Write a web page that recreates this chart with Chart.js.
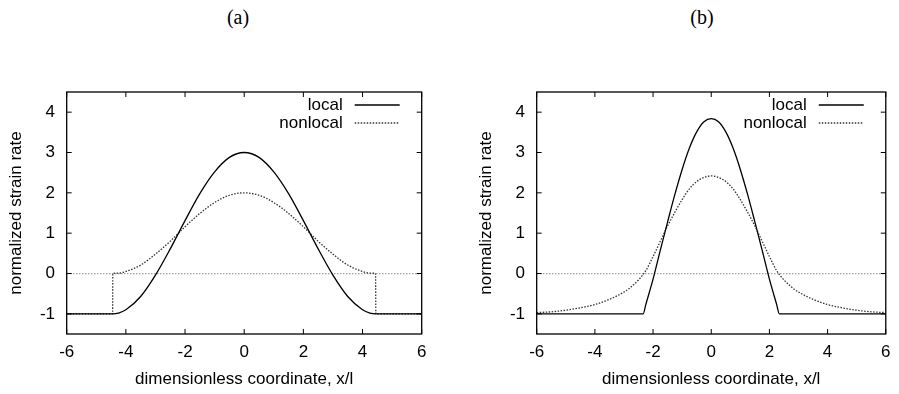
<!DOCTYPE html>
<html>
<head>
<meta charset="utf-8">
<script src="https://cdn.jsdelivr.net/npm/chart.js@4"></script>
<style>
  body { margin: 0; background: #fff; }
  #wrap { position: relative; width: 899px; height: 394px; }
  canvas { position: absolute; top: 0; }
  .sub { position: absolute; top: 6px; width: 60px; line-height: 22px; text-align: center;
         font-family: "Liberation Serif", "Times New Roman", serif; font-size: 20px; color: #000; }
</style>
</head>
<body>
<div id="wrap">
  <div class="sub" style="left:208px">(a)</div>
  <div class="sub" style="left:672px">(b)</div>
  <canvas id="chartA" width="450" height="394" style="left:0"></canvas>
  <canvas id="chartB" width="449" height="394" style="left:450px"></canvas>
</div>
<script>
// tick labels
const xTicks = [-6, -4, -2, 0, 2, 4, 6];
const yTicks = [-1, 0, 1, 2, 3, 4];

// panel (a)
const xLocalA = [-6, -4.44, -4.25, -4, -3.5, -3, -2.5, -2, -1.5, -1, -0.5, 0, 0.5, 1, 1.5, 2, 2.5, 3, 3.5, 4, 4.25, 4.44, 6];
const localA = [-1, -1, -0.98, -0.90, -0.57, -0.04, 0.61, 1.31, 1.98, 2.52, 2.88, 3, 2.88, 2.52, 1.98, 1.31, 0.61, -0.04, -0.57, -0.90, -0.98, -1, -1];
const xNonlocalA = [-6, -4.45, -4.44, -4.25, -4, -3.5, -3, -2.5, -2, -1.5, -1, -0.5, 0, 0.5, 1, 1.5, 2, 2.5, 3, 3.5, 4, 4.25, 4.44, 4.45, 6];
const nonlocalA = [-1, -1, 0, 0.01, 0.05, 0.21, 0.48, 0.80, 1.16, 1.49, 1.76, 1.94, 2, 1.94, 1.76, 1.49, 1.16, 0.80, 0.48, 0.21, 0.05, 0.01, 0, -1, -1];

// panel (b)
const xLocalB = [-6, -2.34, -2.25, -2, -1.75, -1.5, -1.25, -1, -0.75, -0.5, -0.25, 0, 0.25, 0.5, 0.75, 1, 1.25, 1.5, 1.75, 2, 2.25, 2.34, 6];
const localB = [-1, -1, -0.77, -0.14, 0.58, 1.28, 1.96, 2.58, 3.11, 3.51, 3.76, 3.84, 3.76, 3.51, 3.11, 2.58, 1.96, 1.28, 0.58, -0.14, -0.77, -1, -1];
const xNonlocalB = [-6, -5.5, -5, -4.5, -4, -3.5, -3, -2.75, -2.5, -2.25, -2, -1.75, -1.5, -1.25, -1, -0.75, -0.5, -0.25, 0,
                    0.25, 0.5, 0.75, 1, 1.25, 1.5, 1.75, 2, 2.25, 2.5, 2.75, 3, 3.5, 4, 4.5, 5, 5.5, 6];
const nonlocalB = [-0.97, -0.95, -0.91, -0.85, -0.77, -0.64, -0.46, -0.33, -0.16, 0.07, 0.42, 0.80, 1.18, 1.52, 1.83, 2.10, 2.28, 2.38, 2.42,
                   2.38, 2.28, 2.10, 1.83, 1.52, 1.18, 0.80, 0.42, 0.07, -0.16, -0.33, -0.46, -0.64, -0.77, -0.85, -0.91, -0.95, -0.97];

const FONT = '"Liberation Sans", Arial, Helvetica, sans-serif';

function toPoints(xs, ys) {
  return xs.map((x, i) => ({ x: x, y: ys[i] }));
}

// frame, inward ticks and the gnuplot style key
const framePlugin = {
  id: 'frame',
  afterDatasetsDraw(chart) {
    const ctx = chart.ctx;
    const a = chart.chartArea;
    const sx = chart.scales.x, sy = chart.scales.y;
    ctx.save();
    ctx.strokeStyle = '#000';
    ctx.lineWidth = 1.3;
    ctx.strokeRect(a.left, a.top, a.right - a.left, a.bottom - a.top);
    ctx.lineWidth = 1;
    ctx.beginPath();
    xTicks.forEach(v => {
      const px = sx.getPixelForValue(v);
      ctx.moveTo(px, a.bottom); ctx.lineTo(px, a.bottom - 5);
      ctx.moveTo(px, a.top); ctx.lineTo(px, a.top + 5);
    });
    yTicks.forEach(v => {
      const py = sy.getPixelForValue(v);
      ctx.moveTo(a.left, py); ctx.lineTo(a.left + 5, py);
      ctx.moveTo(a.right, py); ctx.lineTo(a.right - 5, py);
    });
    ctx.stroke();

    ctx.font = '17px ' + FONT;
    ctx.textAlign = 'right';
    ctx.textBaseline = 'middle';
    chart.data.datasets.forEach((ds, i) => {
      const yy = a.top + 13 + i * 18;
      ctx.fillStyle = '#000';
      ctx.fillText(ds.label, a.right - 79, yy);
      ctx.strokeStyle = ds.borderColor;
      ctx.lineWidth = ds.borderWidth;
      ctx.setLineDash(ds.borderDash || []);
      ctx.beginPath();
      ctx.moveTo(a.right - 67, yy);
      ctx.lineTo(a.right - 22, yy);
      ctx.stroke();
    });
    ctx.restore();
  }
};

function makePanel(id, xl, yl, xn, yn, axisWidth, titlePad, rightPad) {
  new Chart(document.getElementById(id), {
    type: 'line',
    data: {
      datasets: [
        {
          label: 'local',
          data: toPoints(xl, yl),
          borderColor: '#000',
          borderWidth: 1.3,
          pointRadius: 0,
          cubicInterpolationMode: 'monotone',
          fill: false
        },
        {
          label: 'nonlocal',
          data: toPoints(xn, yn),
          borderColor: '#333',
          borderWidth: 1.3,
          borderDash: [1.5, 1.5],
          pointRadius: 0,
          cubicInterpolationMode: 'monotone',
          fill: false
        }
      ]
    },
    options: {
      responsive: false,
      animation: false,
      devicePixelRatio: 1,
      layout: { padding: { left: 0, right: rightPad, top: 92, bottom: 0 } },
      plugins: { legend: { display: false }, title: { display: false }, tooltip: { enabled: false } },
      scales: {
        x: {
          type: 'linear',
          min: -6,
          max: 6,
          afterBuildTicks: s => { s.ticks = xTicks.map(v => ({ value: v })); },
          afterFit: s => { s.height = 60; },
          grid: { display: false, drawTicks: false },
          border: { display: false },
          ticks: { color: '#000', font: { family: FONT, size: 17 }, padding: 8.5, maxRotation: 0 },
          title: {
            display: true,
            text: 'dimensionless coordinate, x/l',
            color: '#000',
            font: { family: FONT, size: 17 },
            padding: { top: 0, bottom: 4.5 }
          }
        },
        y: {
          type: 'linear',
          min: -1.5,
          max: 4.5,
          afterBuildTicks: s => { s.ticks = yTicks.map(v => ({ value: v })); },
          afterFit: s => { s.width = axisWidth; },
          grid: {
            drawTicks: false,
            lineWidth: 1.2,
            color: c => (c.tick && c.tick.value === 0) ? '#a0a0a0' : 'rgba(0,0,0,0)'
          },
          border: { display: false, dash: [1.5, 1.5] },
          ticks: { color: '#000', font: { family: FONT, size: 17 }, padding: 11.7 },
          title: {
            display: true,
            text: 'normalized strain rate',
            color: '#000',
            font: { family: FONT, size: 17 },
            padding: { top: titlePad, bottom: 0 }
          }
        }
      }
    },
    plugins: [framePlugin]
  });
}

makePanel('chartA', xLocalA, localA, xNonlocalA, nonlocalA, 66.7, 6.5, 28.3);
makePanel('chartB', xLocalB, localB, xNonlocalB, nonlocalB, 86.7, 26.5, 7.3);
</script>
</body>
</html>
